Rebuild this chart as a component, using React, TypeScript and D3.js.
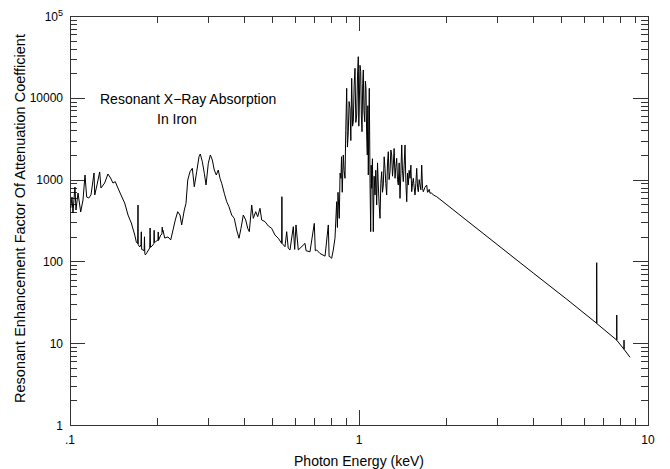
import React from "react";
import * as d3 from "d3";

// Photon energy (keV)
const energy: number[] = [
  0.1006, 0.1016, 0.1024, 0.1040, 0.1049, 0.1066, 0.1089, 0.1109, 0.1127, 0.1142,
  0.1161, 0.1182, 0.1211, 0.1218, 0.1240, 0.1267, 0.1280, 0.1318, 0.1353, 0.1382,
  0.1408, 0.1434, 0.1465, 0.1501, 0.1546, 0.1588, 0.1613, 0.1630, 0.1656, 0.1675,
  0.1696, 0.1715, 0.1719, 0.1722, 0.1743, 0.1760, 0.1765, 0.1770, 0.1789, 0.1805,
  0.1810, 0.1815, 0.1822, 0.1851, 0.1887, 0.1893, 0.1900, 0.1937, 0.1950, 0.1955,
  0.1960, 0.1973, 0.2016, 0.2020, 0.2024, 0.2060, 0.2080, 0.2085, 0.2090, 0.2098,
  0.2127, 0.2183, 0.2231, 0.2272, 0.2314, 0.2359, 0.2402, 0.2435, 0.2486, 0.2520,
  0.2555, 0.2602, 0.2650, 0.2692, 0.2744, 0.2795, 0.2824, 0.2870, 0.2916, 0.2956,
  0.3010, 0.3059, 0.3108, 0.3157, 0.3208, 0.3259, 0.3304, 0.3349, 0.3419, 0.3485,
  0.3549, 0.3626, 0.3702, 0.3774, 0.3844, 0.3906, 0.3978, 0.4055, 0.4120, 0.4173,
  0.4253, 0.4308, 0.4391, 0.4462, 0.4544, 0.4606, 0.4729, 0.4856, 0.4986, 0.5120,
  0.5256, 0.5401, 0.5410, 0.5420, 0.5545, 0.5621, 0.5690, 0.5771, 0.5925, 0.5990,
  0.6053, 0.6166, 0.6503, 0.6560, 0.6767, 0.7003, 0.7060, 0.7139, 0.7330, 0.7630,
  0.7830, 0.7880, 0.7937, 0.8043, 0.8148, 0.8259, 0.8371, 0.8420, 0.8460, 0.8546,
  0.8600, 0.8663, 0.8700, 0.8750, 0.8824, 0.8880, 0.8945, 0.9000, 0.9066, 0.9120,
  0.9183, 0.9240, 0.9309, 0.9370, 0.9435, 0.9500, 0.9557, 0.9620, 0.9687, 0.9750,
  0.9818, 0.9880, 0.9944, 0.9985, 1.0024, 1.0080, 1.0137, 1.0190, 1.0242, 1.0300,
  1.0349, 1.0400, 1.0465, 1.0520, 1.0573, 1.0630, 1.0683, 1.0730, 1.0769, 1.0810,
  1.0854, 1.0920, 1.0977, 1.1020, 1.1064, 1.1130, 1.1207, 1.1280, 1.1360, 1.1430,
  1.1513, 1.1590, 1.1662, 1.1740, 1.1822, 1.1900, 1.1982, 1.2060, 1.2136, 1.2220,
  1.2303, 1.2380, 1.2468, 1.2550, 1.2630, 1.2710, 1.2802, 1.2890, 1.2975, 1.3060,
  1.3143, 1.3230, 1.3323, 1.3410, 1.3502, 1.3590, 1.3677, 1.3770, 1.3865, 1.3960,
  1.4055, 1.4140, 1.4234, 1.4330, 1.4429, 1.4530, 1.4626, 1.4720, 1.4813, 1.4910,
  1.5016, 1.5120, 1.5221, 1.5320, 1.5416, 1.5520, 1.5627, 1.5730, 1.5840, 1.5940,
  1.6042, 1.6150, 1.6262, 1.6370, 1.6482, 1.6590, 1.6692, 1.6900, 1.7150, 1.7260,
  1.7370, 1.7490, 1.7607, 1.7800, 1.8075, 1.8572, 3.075, 4.010, 5.233, 6.645,
  6.645, 6.650, 7.796, 7.796, 7.800, 8.260, 8.260, 8.265, 8.664,
];

// Resonant enhancement factor of attenuation coefficient
const factor: number[] = [
  450, 613, 391, 812, 425, 686, 402, 563, 1138, 613,
  595, 649, 1205, 649, 859, 1240, 789, 908, 1170, 1045,
  908, 943, 789, 649, 517, 369, 321, 295, 242, 210,
  173, 165, 489, 160, 150, 160, 230, 140, 138, 135,
  200, 125, 120, 130, 146, 256, 148, 159, 165, 240,
  170, 173, 183, 229, 180, 210, 215, 262, 230, 240,
  193, 199, 183, 242, 321, 405, 369, 279, 425, 513,
  989, 1250, 1375, 819, 1250, 1905, 2056, 1655, 1194, 859,
  1583, 2000, 1737, 1310, 1138, 1310, 1037, 901, 680, 537,
  466, 369, 336, 242, 192, 254, 369, 321, 254, 231,
  489, 336, 405, 352, 446, 321, 306, 271, 254, 210,
  192, 166, 618, 166, 151, 231, 145, 138, 266, 140,
  279, 138, 166, 135, 131, 292, 135, 138, 125, 116,
  279, 115, 114, 109, 138, 192, 537, 260, 700, 336,
  1200, 1037, 1905, 700, 2000, 1300, 1037, 4000, 13060, 2500,
  3855, 9000, 7435, 3000, 17300, 4500, 5100, 14000, 22950, 5000,
  6160, 18000, 31800, 4500, 8170, 25000, 20840, 6000, 3855, 15000,
  21880, 7000, 5100, 16000, 13060, 3500, 2000, 8000, 1138, 4000,
  13060, 900, 231, 1500, 783, 1800, 231, 1100, 649, 1300,
  489, 1600, 859, 500, 336, 900, 1250, 700, 859, 1900,
  1375, 900, 649, 1600, 2193, 1000, 1250, 2300, 2000, 1100,
  1507, 2400, 1037, 1400, 1820, 1000, 859, 1600, 590, 1200,
  2650, 1300, 943, 1500, 2650, 900, 537, 1200, 859, 1300,
  1037, 1500, 711, 900, 1037, 800, 649, 900, 1375, 800,
  711, 1000, 859, 750, 1507, 780, 711, 800, 859, 700,
  711, 760, 680, 690, 649, 618, 151, 72, 34.5, 17.5,
  96.4, 17.4, 10.9, 22.1, 10.85, 8.42, 10.9, 8.40, 6.73,
];

const xTickValues: number[] = [0.1, 1, 10];
const xTickLabels: string[] = [".1", "1", "10"];
const yTickValues: number[] = [1, 10, 100, 1000, 10000, 100000];
const yTickLabels: string[] = ["1", "10", "100", "1000", "10000", "10^5"];

const xTitle = "Photon Energy (keV)";
const yTitle = "Resonant Enhancement Factor Of Attenuation Coefficient";
const note1 = "Resonant X\u2212Ray Absorption";
const note2 = "In Iron";

const W = 670;
const H = 469;
const L = 70, R = 648, T = 16, B = 425;
const FONT = "'Liberation Sans', Arial, Helvetica, sans-serif";
const AX = "#333";

export default function App() {
  const x = d3.scaleLog().domain([0.1, 10]).range([L, R]);
  const y = d3.scaleLog().domain([1, 1e5]).range([B, T]);

  const pts: [number, number][] = energy.map((e, i) => [e, factor[i]]);
  const line = d3
    .line<[number, number]>()
    .x((d) => x(d[0]))
    .y((d) => y(d[1]));

  const xMinor = x.ticks().filter((v) => !xTickValues.some((m) => Math.abs(m - v) / m < 1e-6));
  const yMinor = y.ticks().filter((v) => !yTickValues.some((m) => Math.abs(m - v) / m < 1e-6));

  const MAJ = 15;
  const MIN = 7;
  const px = (v: number) => Math.round(v) + 0.5;

  return (
    <svg width={W} height={H} style={{ position: "absolute", left: 0, top: 0, background: "#fff" }}>
      <rect x={0} y={0} width={W} height={H} fill="#fff" />
      <g shapeRendering="crispEdges" stroke={AX} strokeWidth={1}>
        {yMinor.map((v, i) => (
          <g key={"ym" + i}>
            <line x1={L} x2={L + MIN} y1={px(y(v))} y2={px(y(v))} />
            <line x1={R} x2={R - MIN} y1={px(y(v))} y2={px(y(v))} />
          </g>
        ))}
        {yTickValues.map((v, i) => (
          <g key={"yM" + i}>
            <line x1={L} x2={L + MAJ} y1={px(y(v))} y2={px(y(v))} />
            <line x1={R} x2={R - MAJ} y1={px(y(v))} y2={px(y(v))} />
          </g>
        ))}
        {xMinor.map((v, i) => (
          <g key={"xm" + i}>
            <line y1={B} y2={B - MIN} x1={px(x(v))} x2={px(x(v))} />
            <line y1={T} y2={T + MIN} x1={px(x(v))} x2={px(x(v))} />
          </g>
        ))}
        {xTickValues.map((v, i) => (
          <g key={"xM" + i}>
            <line y1={B} y2={B - MAJ} x1={px(x(v))} x2={px(x(v))} />
            <line y1={T} y2={T + MAJ} x1={px(x(v))} x2={px(x(v))} />
          </g>
        ))}
        <rect x={L + 0.5} y={T + 0.5} width={R - L} height={B - T} fill="none" />
      </g>

      <path d={line(pts) || ""} fill="none" stroke="#000" strokeWidth={1} strokeLinejoin="round" />

      <g fontFamily={FONT} fontSize={12} fill="#000">
        {xTickValues.map((v, i) => (
          <text key={"xl" + i} x={x(v)} y={444} textAnchor="middle">
            {xTickLabels[i]}
          </text>
        ))}
        {yTickValues.map((v, i) => {
          const lab = yTickLabels[i];
          if (lab.includes("^")) {
            const [base, exp] = lab.split("^");
            return (
              <text key={"yl" + i} x={63} y={y(v) + 4.5} textAnchor="end">
                {base}
                <tspan dy={-5} fontSize={9}>{exp}</tspan>
              </text>
            );
          }
          return (
            <text key={"yl" + i} x={63} y={y(v) + 4.5} textAnchor="end">
              {lab}
            </text>
          );
        })}
      </g>

      <text x={(L + R) / 2} y={466} textAnchor="middle" fontFamily={FONT} fontSize={14}>
        {xTitle}
      </text>
      <text
        transform={`translate(25, ${(T + B) / 2 - 2}) rotate(-90)`}
        textAnchor="middle"
        fontFamily={FONT}
        fontSize={14.5}
      >
        {yTitle}
      </text>
      <text x={100} y={104} fontFamily={FONT} fontSize={14}>
        {note1}
      </text>
      <text x={157} y={124} fontFamily={FONT} fontSize={14}>
        {note2}
      </text>
    </svg>
  );
}
